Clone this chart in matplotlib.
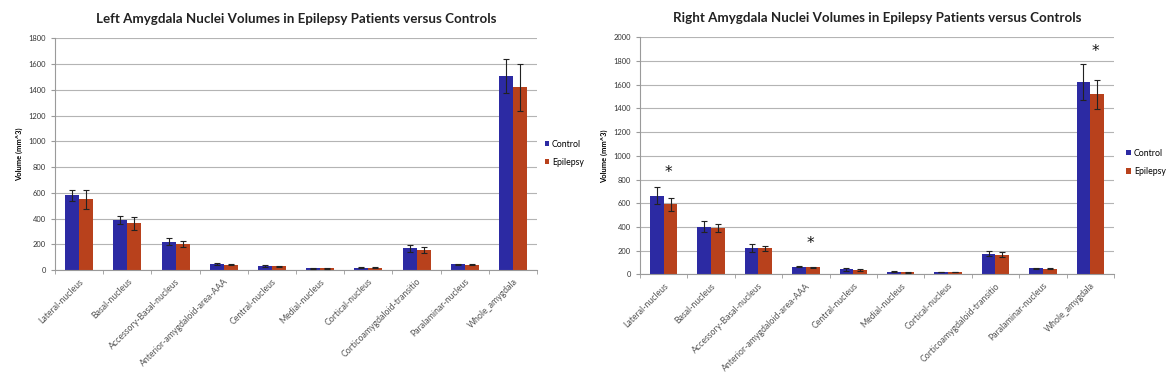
import numpy as np
import matplotlib
matplotlib.use("Agg")
import matplotlib.pyplot as plt

plt.rcParams['font.family'] = ['Lato', 'DejaVu Sans']

# categories shared by both panels
nuclei = ['Lateral-nucleus', 'Basal-nucleus', 'Accessory-Basal-nucleus',
          'Anterior-amygdaloid-area-AAA', 'Central-nucleus', 'Medial-nucleus',
          'Cortical-nucleus', 'Corticoamygdaloid-transitio', 'Paralaminar-nucleus',
          'Whole_amygdala']

# left amygdala
left_control = [580, 388, 220, 45, 30, 13, 18, 168, 45, 1505]
left_control_err = [45, 30, 25, 6, 6, 3, 3, 30, 4, 132]
left_epilepsy = [548, 362, 200, 42, 28, 14, 18, 155, 40, 1418]
left_epilepsy_err = [72, 48, 22, 6, 6, 4, 4, 25, 5, 182]

# right amygdala
right_control = [665, 402, 220, 65, 42, 20, 20, 175, 50, 1625]
right_control_err = [75, 45, 35, 7, 10, 4, 3, 22, 4, 150]
right_epilepsy = [590, 388, 218, 58, 38, 18, 20, 165, 48, 1518]
right_epilepsy_err = [55, 35, 25, 6, 6, 4, 3, 22, 4, 125]

# significance stars (right panel)
star_idx = [0, 3, 9]
star_y = [860, 262, 1880]

c_ctrl = '#2c2aa3'
c_epi = '#b8411c'
grey = '#9a9a9a'

fig = plt.figure(figsize=(11.71, 3.85), dpi=100)
ax1 = fig.add_axes([0.047, 0.2987, 0.4116, 0.6018])
ax2 = fig.add_axes([0.5465, 0.2875, 0.4048, 0.6156])


def draw(ax, ctrl, ctrl_err, epi, epi_err, ymax, title, legend_xy):
    x = np.arange(len(nuclei))
    w = 0.29
    ax.bar(x - w / 2, ctrl, w, color=c_ctrl, label='Control', zorder=2)
    ax.bar(x + w / 2, epi, w, color=c_epi, label='Epilepsy', zorder=2)
    ax.errorbar(x - w / 2, ctrl, yerr=ctrl_err, fmt='none', ecolor='#222222',
                elinewidth=0.8, capsize=2, capthick=0.8, zorder=3)
    ax.errorbar(x + w / 2, epi, yerr=epi_err, fmt='none', ecolor='#222222',
                elinewidth=0.8, capsize=2, capthick=0.8, zorder=3)
    ax.set_xlim(-0.5, len(nuclei) - 0.5)
    ax.set_ylim(0, ymax)
    ax.set_yticks(np.arange(0, ymax + 1, 200))
    ax.yaxis.grid(True, color='#b4b4b4', lw=0.8, zorder=0)
    ax.set_axisbelow(True)
    for s in ['top', 'right']:
        ax.spines[s].set_visible(False)
    for s in ['left', 'bottom']:
        ax.spines[s].set_color(grey)
        ax.spines[s].set_linewidth(0.8)
    ax.set_xticks(x)
    ax.set_xticklabels(nuclei, rotation=45, ha='right', rotation_mode='anchor',
                       fontsize=6.3, color='#555555')
    ax.tick_params(axis='x', length=0, pad=5)
    ax.set_xticks(np.arange(-0.5, len(nuclei)), minor=True)
    ax.tick_params(axis='x', which='minor', length=3, color=grey, direction='out')
    ax.tick_params(axis='y', labelsize=5.4, length=3, color=grey, labelcolor='#333333')
    ax.set_ylabel('Volume (mm^3)', fontsize=5.4, fontweight='bold', labelpad=4)
    ax.set_title(title, fontsize=9.6, fontweight='bold', color='#222222', pad=11)
    ax.legend(loc='center left', bbox_to_anchor=legend_xy, bbox_transform=fig.transFigure,
              frameon=False, fontsize=6.3, handlelength=0.55, handleheight=0.55,
              handletextpad=0.3, labelspacing=1.05, borderaxespad=0)


draw(ax1, left_control, left_control_err, left_epilepsy, left_epilepsy_err, 1800,
     'Left Amygdala Nuclei Volumes in Epilepsy Patients versus Controls', (0.462, 0.602))
draw(ax2, right_control, right_control_err, right_epilepsy, right_epilepsy_err, 2000,
     'Right Amygdala Nuclei Volumes in Epilepsy Patients versus Controls', (0.959, 0.578))

for i, yv in zip(star_idx, star_y):
    ax2.text(i + 0.1, yv, '*', ha='center', va='center', fontsize=11,
             fontfamily='DejaVu Sans', color='#111111')

fig.savefig('out.png', dpi=100)
